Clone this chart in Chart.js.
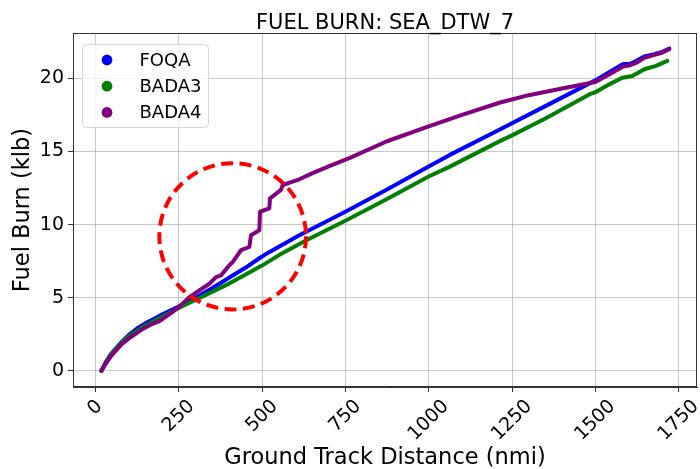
<!DOCTYPE html>
<html>
<head>
<meta charset="utf-8">
<script src="https://cdn.jsdelivr.net/npm/chart.js@4.4.0/dist/chart.umd.min.js"></script>
<style>
    body { margin: 0; background: #fff; }
    #wrap { width: 700px; height: 469px; }
</style>
</head>
<body>
<div id="wrap"><canvas id="fuel-chart" width="700" height="469"></canvas></div>
<script>
// Fuel burn along track
const foqaDist = [18, 30, 45, 60, 80, 100, 125, 150, 175, 200, 250, 300, 350, 400, 450, 492, 520, 612, 750, 875, 1000, 1062, 1212, 1350, 1500, 1540, 1582, 1605, 1622, 1647, 1677, 1700, 1722];
const foqaFuel = [0, 0.55, 1.1, 1.5, 2.0, 2.45, 2.9, 3.25, 3.55, 3.85, 4.4, 5.0, 5.65, 6.35, 7.05, 7.7, 8.1, 9.28, 10.88, 12.4, 13.97, 14.75, 16.49, 18.1, 19.86, 20.4, 20.96, 21.0, 21.19, 21.5, 21.65, 21.8, 22.04];

const bada3Dist = [18, 30, 45, 60, 80, 100, 125, 150, 175, 200, 250, 300, 350, 400, 462, 500, 550, 633, 750, 875, 1000, 1062, 1212, 1250, 1350, 1482, 1500, 1542, 1581, 1611, 1647, 1682, 1716];
const bada3Fuel = [0, 0.5, 1.05, 1.45, 1.95, 2.35, 2.75, 3.1, 3.4, 3.7, 4.3, 4.85, 5.4, 5.95, 6.73, 7.2, 7.9, 8.93, 10.26, 11.75, 13.29, 13.95, 15.69, 16.1, 17.25, 18.9, 19.05, 19.59, 20.04, 20.16, 20.62, 20.85, 21.19];

const bada4Dist = [18, 30, 45, 60, 80, 100, 125, 141, 170, 192, 202, 230, 257, 282, 312, 342, 362, 377, 402, 412, 437, 462, 467, 492, 494, 522, 524, 557, 562, 592, 612, 650, 700, 762, 875, 1000, 1100, 1212, 1300, 1400, 1500, 1540, 1582, 1605, 1622, 1647, 1677, 1700, 1722];
const bada4Fuel = [0, 0.45, 0.95, 1.35, 1.85, 2.2, 2.6, 2.85, 3.2, 3.4, 3.55, 4.0, 4.5, 5.04, 5.5, 5.96, 6.41, 6.53, 7.22, 7.44, 8.25, 8.47, 9.28, 9.62, 10.88, 11.11, 11.8, 12.37, 12.71, 12.94, 13.1, 13.5, 13.98, 14.55, 15.7, 16.72, 17.5, 18.33, 18.85, 19.3, 19.75, 20.25, 20.8, 20.9, 21.05, 21.4, 21.6, 21.75, 22.0];

const seriesLabels = ['FOQA', 'BADA3', 'BADA4'];
const seriesColors = ['#0000ff', '#008000', '#800080'];

const xTickValues = [0, 250, 500, 750, 1000, 1250, 1500, 1750];
const yTickValues = [0, 5, 10, 15, 20];

// dashed circle marking the BADA4 jump (centre and radius in data units)
const highlightCenter = [412, 9.2];
const highlightRadius = [220, 5.0];

const FONT = '"DejaVu Sans", sans-serif';

function toPoints(xs, ys) {
    return xs.map((x, i) => ({ x: x, y: ys[i] }));
}

// title, frame, rotated x labels, circle and legend
const extras = {
    id: 'extras',
    afterDatasetsDraw(chart) {
        const ctx = chart.ctx;
        const xs = chart.scales.x;
        const ys = chart.scales.y;
        const cx = xs.getPixelForValue(highlightCenter[0]);
        const cy = ys.getPixelForValue(highlightCenter[1]);
        const rx = xs.getPixelForValue(highlightCenter[0] + highlightRadius[0]) - cx;
        const ry = cy - ys.getPixelForValue(highlightCenter[1] + highlightRadius[1]);
        ctx.save();
        ctx.strokeStyle = '#ff0000';
        ctx.lineWidth = 4;
        ctx.setLineDash([12, 6.5]);
        ctx.beginPath();
        ctx.ellipse(cx, cy, rx, ry, 0, 0, Math.PI * 2);
        ctx.stroke();
        ctx.restore();
    },
    afterDraw(chart) {
        const ctx = chart.ctx;
        const area = chart.chartArea;
        const xs = chart.scales.x;

        ctx.save();
        // frame
        ctx.strokeStyle = '#333';
        ctx.lineWidth = 1;
        ctx.strokeRect(Math.round(area.left) + 0.5, Math.round(area.top) + 0.5,
            Math.round(area.right - area.left) - 1, Math.round(area.bottom - area.top) - 1);

        // title
        ctx.fillStyle = '#000';
        ctx.font = '21px ' + FONT;
        ctx.textAlign = 'center';
        ctx.textBaseline = 'alphabetic';
        ctx.fillText('FUEL BURN: SEA_DTW_7', (area.left + area.right) / 2, 29);

        // x tick labels, rotated 45 deg about their centre
        ctx.font = '19px ' + FONT;
        ctx.textBaseline = 'middle';
        xs.ticks.forEach(t => {
            const label = String(t.value);
            const w = ctx.measureText(label).width;
            const px = xs.getPixelForValue(t.value);
            const py = area.bottom + 9 + (w + 21) * Math.SQRT1_2 / 2;
            ctx.save();
            ctx.translate(px, py);
            ctx.rotate(-Math.PI / 4);
            ctx.fillText(label, 0, 0);
            ctx.restore();
        });

        // legend
        const lx = area.left + 9.5, ly = area.top + 11.5, lw = 126, lh = 83;
        ctx.beginPath();
        ctx.roundRect(lx, ly, lw, lh, 4);
        ctx.fillStyle = 'rgba(255,255,255,0.8)';
        ctx.fill();
        ctx.strokeStyle = '#d6d6d6';
        ctx.stroke();
        ctx.font = '18px ' + FONT;
        ctx.textAlign = 'left';
        chart.data.datasets.forEach((ds, i) => {
            const rowY = ly + 15.5 + i * 26.2;
            ctx.beginPath();
            ctx.arc(lx + 24.5, rowY, 5.4, 0, Math.PI * 2);
            ctx.fillStyle = ds.borderColor;
            ctx.fill();
            ctx.fillStyle = '#000';
            ctx.fillText(ds.label, lx + 57, rowY + 1);
        });
        ctx.restore();
    }
};

const ctx = document.getElementById('fuel-chart').getContext('2d');

const fuelChart = new Chart(ctx, {
    type: 'line',
    data: {
        datasets: [
            { label: seriesLabels[0], data: toPoints(foqaDist, foqaFuel), borderColor: seriesColors[0], order: 3 },
            { label: seriesLabels[1], data: toPoints(bada3Dist, bada3Fuel), borderColor: seriesColors[1], order: 2 },
            { label: seriesLabels[2], data: toPoints(bada4Dist, bada4Fuel), borderColor: seriesColors[2], order: 1 }
        ]
    },
    options: {
        responsive: false,
        animation: false,
        layout: { padding: { top: 33, right: 3, left: 0, bottom: 0 } },
        elements: {
            line: { borderWidth: 4, tension: 0, borderJoinStyle: 'round', borderCapStyle: 'round', fill: false },
            point: { radius: 0 }
        },
        plugins: {
            legend: { display: false },
            title: { display: false },
            tooltip: { enabled: false }
        },
        scales: {
            x: {
                type: 'linear',
                min: -67,
                max: 1805,
                afterBuildTicks: s => { s.ticks = xTickValues.map(v => ({ value: v })); },
                afterFit: s => { s.height = 82; },
                ticks: { display: false },
                grid: { color: 'rgba(176,176,176,0.7)', lineWidth: 1, tickColor: '#333', tickLength: 5 },
                border: { color: '#333', width: 1 },
                title: {
                    display: true,
                    text: 'Ground Track Distance (nmi)',
                    color: '#000',
                    font: { family: FONT, size: 22.5, lineHeight: 1 },
                    padding: { top: 0, bottom: 0 }
                }
            },
            y: {
                type: 'linear',
                min: -1.1,
                max: 23.1,
                afterBuildTicks: s => { s.ticks = yTickValues.map(v => ({ value: v })); },
                afterFit: s => { s.width = 73; },
                ticks: { color: '#000', font: { family: FONT, size: 19 }, padding: 4 },
                grid: { color: 'rgba(176,176,176,0.7)', lineWidth: 1, tickColor: '#333', tickLength: 5 },
                border: { color: '#333', width: 1 },
                title: {
                    display: true,
                    text: 'Fuel Burn (klb)',
                    color: '#000',
                    font: { family: FONT, size: 22.5, lineHeight: 1 },
                    padding: { top: 12, bottom: 0 }
                }
            }
        }
    },
    plugins: [extras]
});
</script>
</body>
</html>
